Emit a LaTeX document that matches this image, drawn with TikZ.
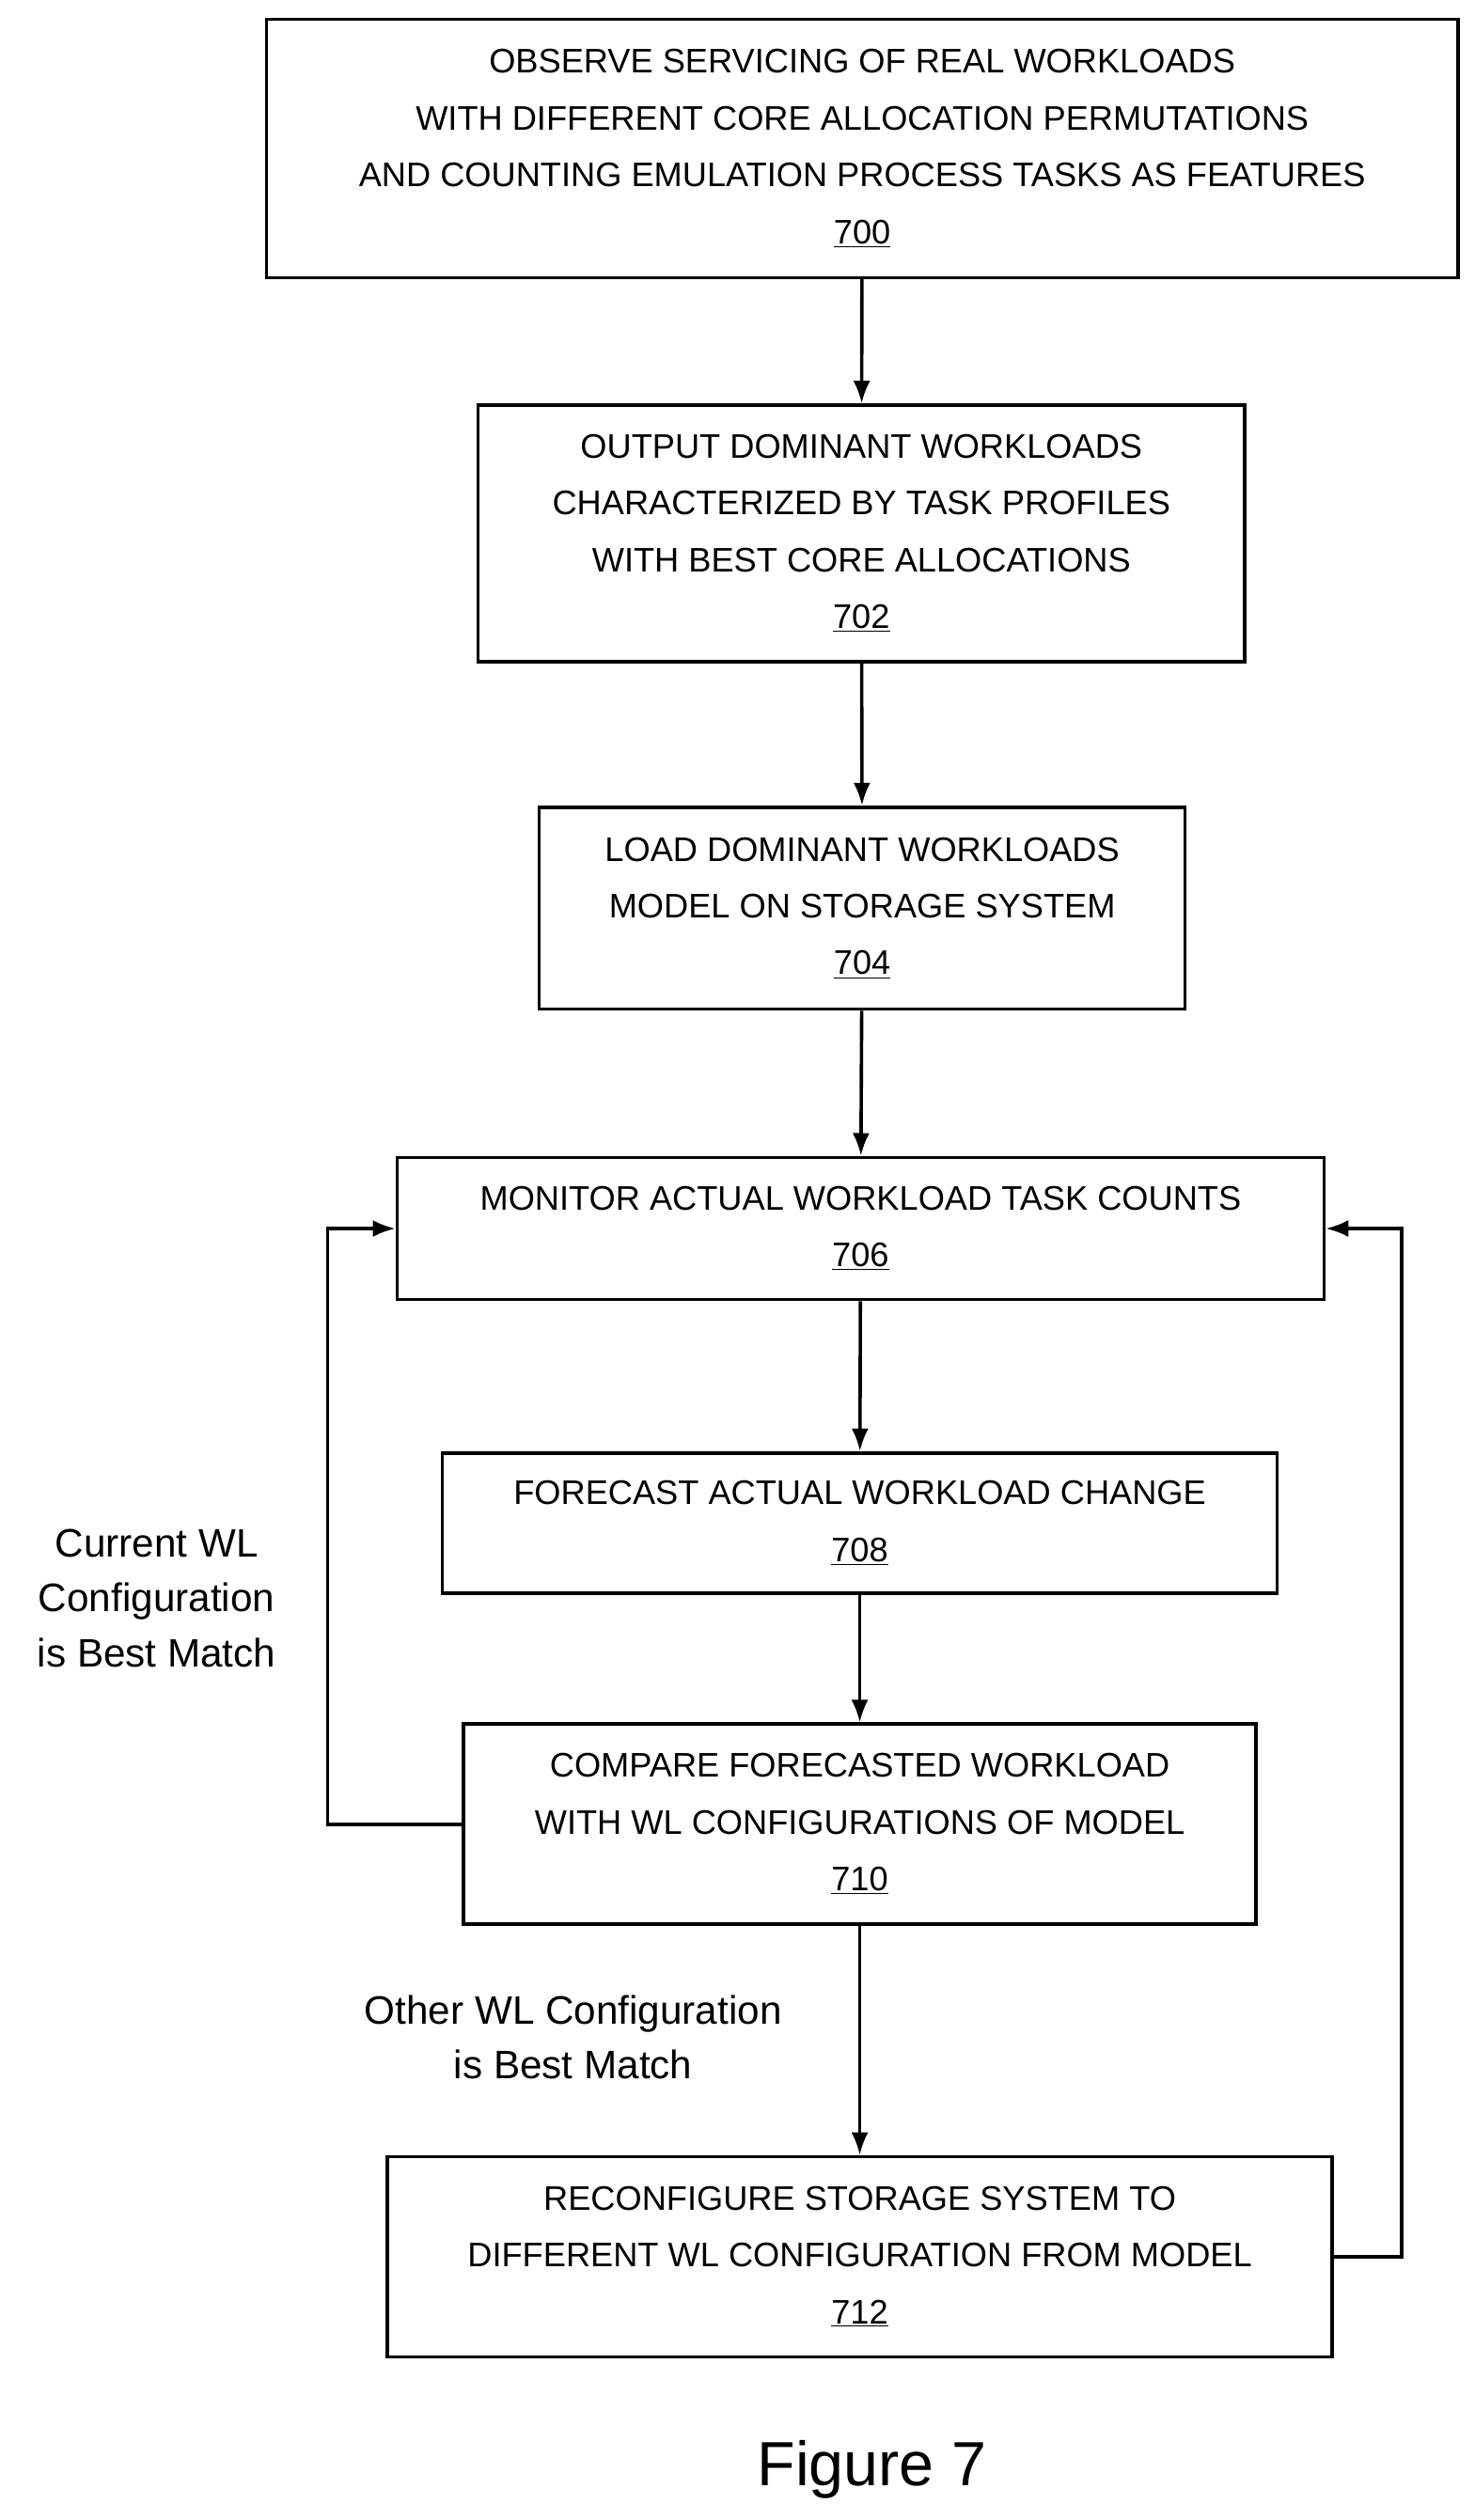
\documentclass[tikz,border=0pt]{standalone}
\usepackage{fontspec}
\setmainfont{Liberation Sans}
\usetikzlibrary{arrows.meta, positioning}

\begin{document}
\begin{tikzpicture}[x=0.03cm, y=-0.03cm, ->, >={Latex[length=12pt,width=9pt]}, line width=1.8pt,
  flowbox/.style={draw, line width=1.8pt, align=center, font=\fontsize{18}{30}\selectfont, inner sep=0pt},
  note/.style={align=center, font=\fontsize{21}{29}\selectfont}]
			\useasboundingbox (0,0) rectangle (913,1561);
			% Steps
			\node[flowbox, minimum width=738*0.03cm, minimum height=160*0.03cm] (700) at (534,92) {OBSERVE SERVICING OF REAL WORKLOADS\\WITH DIFFERENT CORE ALLOCATION PERMUTATIONS\\AND COUNTING EMULATION PROCESS TASKS AS FEATURES\\\underline{700}};
			\node[flowbox, minimum width=475*0.03cm, minimum height=159*0.03cm] (702) at (533.5,330.5) {OUTPUT DOMINANT WORKLOADS\\CHARACTERIZED BY TASK PROFILES\\WITH BEST CORE ALLOCATIONS\\\underline{702}};
			\node[flowbox, minimum width=400*0.03cm, minimum height=125*0.03cm] (704) at (534,562.5) {LOAD DOMINANT WORKLOADS\\MODEL ON STORAGE SYSTEM\\\underline{704}};
			\node[flowbox, minimum width=574*0.03cm, minimum height=88*0.03cm] (706) at (533,761) {MONITOR ACTUAL WORKLOAD TASK COUNTS\\\underline{706}};
			\node[flowbox, minimum width=517*0.03cm, minimum height=87*0.03cm] (708) at (532.5,943.5) {FORECAST ACTUAL WORKLOAD CHANGE\\\underline{708}};
			\node[flowbox, minimum width=491*0.03cm, minimum height=124*0.03cm] (710) at (532.5,1130) {COMPARE FORECASTED WORKLOAD\\WITH WL CONFIGURATIONS OF MODEL\\\underline{710}};
			\node[flowbox, minimum width=585*0.03cm, minimum height=124*0.03cm] (712) at (532.5,1398) {RECONFIGURE STORAGE SYSTEM TO\\DIFFERENT WL CONFIGURATION FROM MODEL\\\underline{712}};
			
			% Labels
			\node[note] (current) at (97,990) {Current WL\\Configuration\\is Best Match};
			\node[note] (other) at (355,1262) {Other WL Configuration\\is Best Match};
			\node[font=\fontsize{33}{40}\selectfont] (fig) at (540,1530) {Figure 7};
			
			% Flow
			\draw (700) -- (702);
			\draw (702) -- (704);
			\draw (704) -- (706);
			\draw (706) -- (708);
			\draw (708) -- (710);
			\draw (710) -- (712);
			
			% Loops back
			\draw (710.west) -| (203,761) -- (706.west);
			\draw (712.east) -| (868,761) -- (706.east);
		\end{tikzpicture}
\end{document}
